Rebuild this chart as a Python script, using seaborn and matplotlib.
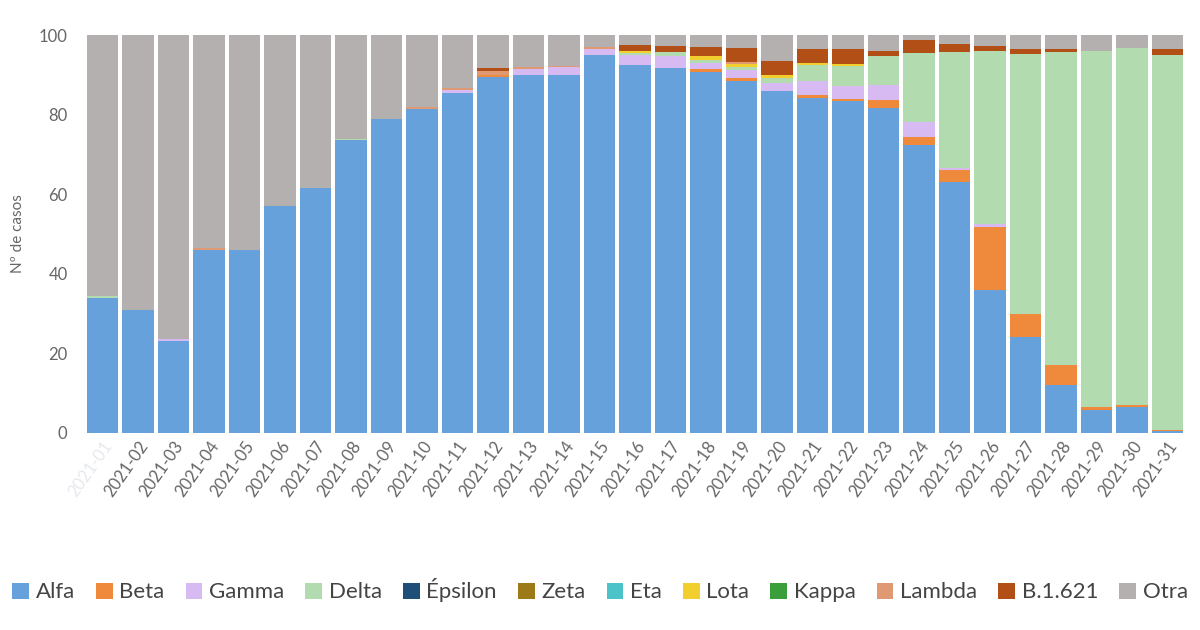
import numpy as np
import pandas as pd
import seaborn as sns
import matplotlib.pyplot as plt

# Semanas
weeks = ["2021-%02d" % i for i in range(1, 32)]

# Porcentaje de casos por variante y semana
alfa    = [34, 31, 23, 46, 46, 57, 61.5, 73.6, 79, 81.4, 85.4, 89.5, 90, 90, 95, 92.5,
           91.7, 90.8, 88.6, 86, 84.3, 83.5, 81.6, 72.4, 63, 36, 24, 12, 5.8, 6.5, 0.5]
beta    = [0, 0, 0, 0, 0, 0, 0, 0, 0, 0, 0, 0.5, 0, 0, 0, 0,
           0, 0.7, 0.6, 0, 0.7, 0.5, 2, 2, 3, 15.8, 6, 5, 0.8, 0.5, 0.3]
gamma   = [0, 0, 0.7, 0, 0, 0, 0, 0, 0, 0, 0.8, 0, 1.5, 2, 1.5, 2.5,
           3.2, 1.5, 2, 2, 3.5, 3.3, 3.8, 3.8, 0.5, 0.8, 0, 0, 0, 0, 0]
delta   = [0.5, 0, 0, 0, 0, 0, 0, 0.4, 0, 0, 0, 0, 0, 0, 0, 0.5,
           0.8, 0.8, 0.8, 1.2, 4, 5, 7.4, 17.3, 29.2, 43.5, 65.3, 78.7, 89.4, 89.7, 94.3]
epsilon = [0] * 31
zeta    = [0] * 31
eta     = [0] * 31
lota    = [0, 0, 0, 0, 0, 0, 0, 0, 0, 0, 0, 0, 0, 0, 0, 0.5,
           0, 1.0, 0.8, 0.8, 0.5, 0.4, 0, 0, 0, 0, 0, 0, 0, 0, 0]
kappa   = [0] * 31
lambda_ = [0, 0, 0, 0.5, 0, 0, 0, 0, 0, 0.5, 0.5, 1.0, 0.5, 0.3, 0.5, 0,
           0, 0, 0.6, 0, 0, 0, 0, 0, 0, 0, 0, 0, 0, 0, 0]
b1621   = [0, 0, 0, 0, 0, 0, 0, 0, 0, 0, 0, 0.7, 0, 0, 0, 1.5,
           1.5, 2.2, 3.3, 3.6, 3.5, 3.8, 1.2, 3.3, 2.2, 1.2, 1.2, 0.8, 0, 0, 1.5]
otra    = [65.5, 69, 76.3, 53.5, 54, 43, 38.5, 26, 21, 18.1, 13.3, 8.3, 8, 7.7, 3, 2.5,
           2.8, 3.0, 3.3, 6.4, 3.5, 3.5, 4, 1.2, 2.1, 2.7, 3.5, 3.5, 4, 3.3, 3.4]

variantes = ["Alfa", "Beta", "Gamma", "Delta", "Épsilon", "Zeta", "Eta", "Lota",
             "Kappa", "Lambda", "B.1.621", "Otra"]
series = [alfa, beta, gamma, delta, epsilon, zeta, eta, lota, kappa, lambda_, b1621, otra]
colores = ["#67A1DB", "#EF8A3D", "#D8BAF3", "#B2DCB0", "#1F4E79", "#9C7A17",
           "#4CC3C9", "#F2CE2E", "#3A9E3A", "#E09A73", "#B14F17", "#B4B0B0"]

df = pd.DataFrame(dict(zip(variantes, series)), index=weeks)

sns.set_style("white")
plt.rcParams["font.family"] = ["Lato", "DejaVu Sans"]

fig, ax = plt.subplots(figsize=(12, 6.3), dpi=100)
fig.subplots_adjust(left=0.0725, right=0.986, top=0.944, bottom=0.313)

bottom = np.zeros(len(weeks))
for var, col in zip(variantes, colores):
    sns.barplot(x=df.index, y=df[var].values, bottom=bottom, color=col, saturation=1,
                width=0.88, linewidth=0, ax=ax, label=var)
    bottom += df[var].values

ax.set_xlim(-0.44, 30.44)
ax.set_ylim(0, 100)
ax.set_yticks([0, 20, 40, 60, 80, 100])
ax.tick_params(axis="y", labelsize=12, labelcolor="#666666", length=0, pad=14)
ax.tick_params(axis="x", labelsize=12, labelcolor="#666666", length=0, pad=4)
plt.setp(ax.get_xticklabels(), rotation=55, ha="right", rotation_mode="anchor")
ax.get_xticklabels()[0].set_color("#e6e9ee")
ax.set_ylabel("Nº de casos", fontsize=11, color="#666666", labelpad=10)
ax.set_xlabel("")
sns.despine(ax=ax, left=True, bottom=True)

handles, labels = ax.get_legend_handles_labels()
if ax.legend_:
    ax.legend_.remove()
fig.legend(handles, labels, loc="lower center", ncol=12, bbox_to_anchor=(0.5, 0.012),
           frameon=False, handlelength=0.75, handleheight=0.75,
           handletextpad=0.3, columnspacing=0.95, labelcolor="#444444",
           prop={"family": ["Liberation Sans Narrow", "Lato", "DejaVu Sans"], "size": 16})

plt.savefig("out.png", dpi=100)
